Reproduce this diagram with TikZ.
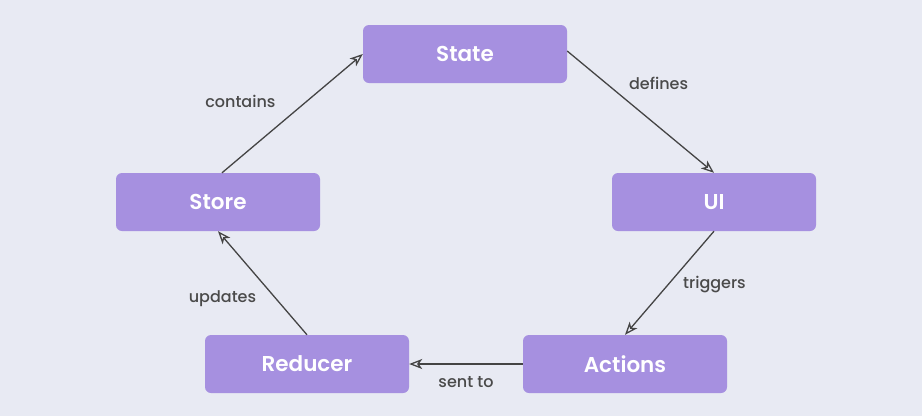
\documentclass[tikz,border=0pt]{standalone}
\usepackage{fontspec}
\setmainfont{Poppins}
\IfFontExistsTF{Poppins SemiBold}
  {\newfontfamily\stagefont{Poppins SemiBold}}
  {\newfontfamily\stagefont{Poppins}[UprightFont=*, UprightFeatures={FakeBold=0}]}
\IfFontExistsTF{Poppins Medium}
  {\newfontfamily\tagfont{Poppins Medium}}
  {\newfontfamily\tagfont{Poppins}}
\usepackage{xcolor}
\usepackage{tikz}
\usetikzlibrary{arrows.meta,positioning}
\definecolor{pagebg}{HTML}{E8EAF3}
\definecolor{boxfill}{HTML}{A690E0}
\definecolor{linkink}{HTML}{444444}
\definecolor{labelink}{HTML}{4A4A4A}

\begin{document}
\begin{tikzpicture}[x=1pt, y=-1pt,
    stagebox/.style={fill=boxfill, rounded corners=6pt, minimum width=204pt,
      minimum height=58pt, inner sep=0pt, text=white, font=\fontsize{21.5}{24}\stagefont},
    link/.style={draw=linkink, line width=1.3pt, -{Stealth[open, length=13pt, width=10pt, inset=3.5pt]}},
    tag/.style={text=labelink, font=\fontsize{16}{19}\tagfont}]
  % page
  \fill[pagebg] (0,0) rectangle (922,416);

  % stages
  \node[stagebox] (state)   at (465,54)  {State};
  \node[stagebox] (store)   at (218,202) {Store};
  \node[stagebox] (ui)      at (714,202) {UI};
  \node[stagebox] (reducer) at (307,364) {Reducer};
  \node[stagebox] (actions) at (625,364) {Actions};

  % flow
  \draw[link] ([xshift=4pt]store.north) -- (state.west)
    node[tag, pos=0.5, xshift=-52pt, yshift=12pt] (contains) {contains};
  \draw[link] ([yshift=3pt]state.east) -- (ui.north)
    node[tag, pos=0.5, xshift=18pt, yshift=29pt] (defines) {defines};
  \draw[link] (ui.south) -- (actions.north)
    node[tag, pos=0.5, xshift=45pt, yshift=-2pt] (triggers) {triggers};
  \draw[link] (actions.west) -- (reducer.east)
    node[tag, pos=0.5, yshift=-18pt] (sentto) {sent to};
  \draw[link] (reducer.north) -- (store.south)
    node[tag, pos=0.5, xshift=-40pt, yshift=-16pt] (updates) {updates};
\end{tikzpicture}
\end{document}
